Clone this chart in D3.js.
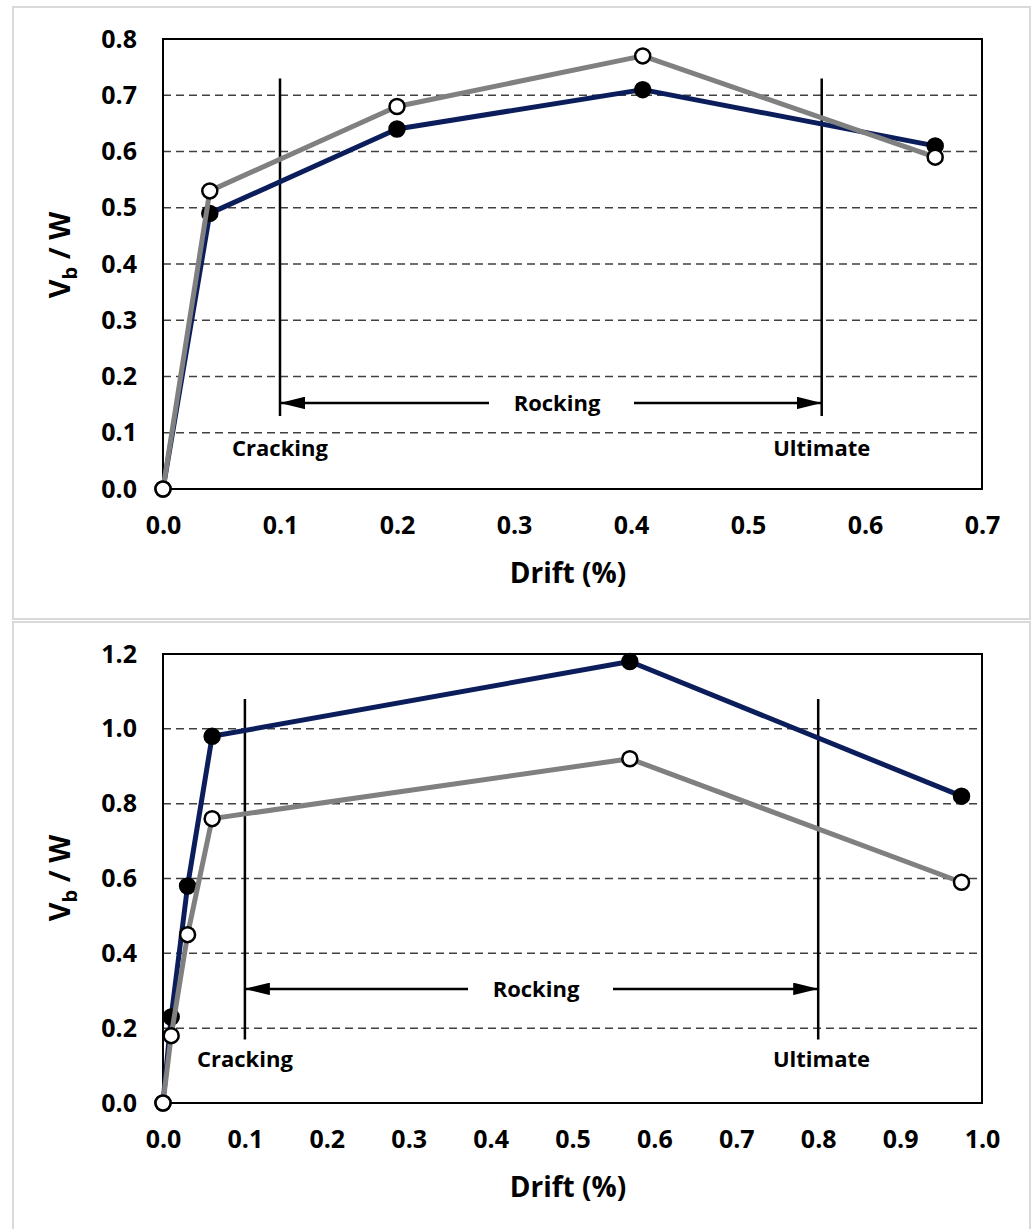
<!DOCTYPE html>
<html>
<head>
<meta charset="utf-8">
<script src="https://cdn.jsdelivr.net/npm/d3@7"></script>
<style>
  body { margin: 0; background: #fff; }
  text { font-family: "Open Sans", sans-serif; font-weight: bold; fill: #000; }
</style>
</head>
<body>
<div id="chart"></div>
<script>
// top panel
const topDrift = [0, 0.04, 0.2, 0.41, 0.66];
const topSolid = [0, 0.49, 0.64, 0.71, 0.61];
const topHollow = [0, 0.53, 0.68, 0.77, 0.59];
const topXTicks = [0, 0.1, 0.2, 0.3, 0.4, 0.5, 0.6, 0.7];
const topYTicks = [0, 0.1, 0.2, 0.3, 0.4, 0.5, 0.6, 0.7, 0.8];
// limits: [cracking drift, ultimate drift], marker line span, arrow level, label level
const topLimits = [0.1, 0.563];
const topLimitSpan = [0.13, 0.73];
const topArrowY = 0.153;
const topLabelY = 0.058;

// bottom panel
const botDrift = [0, 0.01, 0.03, 0.06, 0.57, 0.975];
const botSolid = [0, 0.23, 0.58, 0.98, 1.18, 0.82];
const botHollow = [0, 0.18, 0.45, 0.76, 0.92, 0.59];
const botXTicks = [0, 0.1, 0.2, 0.3, 0.4, 0.5, 0.6, 0.7, 0.8, 0.9, 1.0];
const botYTicks = [0, 0.2, 0.4, 0.6, 0.8, 1.0, 1.2];
const botLimits = [0.1, 0.8];
const botLimitSpan = [0.17, 1.08];
const botArrowY = 0.305;
const botLabelY = 0.095;

const svg = d3.select("#chart").append("svg")
  .attr("width", 1035)
  .attr("height", 1229);

const defs = svg.append("defs");
defs.append("marker")
  .attr("id", "head")
  .attr("viewBox", "0 0 10 5")
  .attr("refX", 10).attr("refY", 2.5)
  .attr("markerWidth", 10).attr("markerHeight", 5)
  .attr("markerUnits", "strokeWidth")
  .attr("orient", "auto")
  .append("path")
  .attr("d", "M0,0 L10,2.5 L0,5 z")
  .attr("fill", "#000");

function drawPanel(p) {
  // outer frame
  svg.append("rect")
    .attr("x", 13).attr("y", p.frameY)
    .attr("width", 1017).attr("height", p.frameH)
    .attr("fill", "#fff")
    .attr("stroke", "#d9d9d9")
    .attr("stroke-width", 2);

  const x = d3.scaleLinear().domain(p.xDomain).range([163, 982]);
  const y = d3.scaleLinear().domain(p.yDomain).range([p.bottom, p.top]);

  const g = svg.append("g");

  // gridlines
  g.selectAll(".grid")
    .data(p.yTicks.filter((d, i) => i > 0))
    .join("line")
    .attr("x1", x(p.xDomain[0])).attr("x2", x(p.xDomain[1]))
    .attr("y1", (d) => y(d)).attr("y2", (d) => y(d))
    .attr("stroke", "#404040")
    .attr("stroke-width", 1.5)
    .attr("stroke-dasharray", "8,5");

  // plot border
  g.append("rect")
    .attr("x", x(p.xDomain[0])).attr("y", y(p.yDomain[1]))
    .attr("width", x(p.xDomain[1]) - x(p.xDomain[0]))
    .attr("height", y(p.yDomain[0]) - y(p.yDomain[1]))
    .attr("fill", "none")
    .attr("stroke", "#000")
    .attr("stroke-width", 2);

  // axes tick labels
  const xAxis = g.append("g")
    .attr("transform", `translate(0,${p.bottom})`)
    .call(d3.axisBottom(x).tickValues(p.xTicks).tickFormat(d3.format(".1f")).tickSize(0).tickPadding(27));
  xAxis.select(".domain").remove();
  xAxis.selectAll("text").style("font-size", "25px");

  const yAxis = g.append("g")
    .attr("transform", `translate(163,0)`)
    .call(d3.axisLeft(y).tickValues(p.yTicks).tickFormat(d3.format(".1f")).tickSize(0).tickPadding(26));
  yAxis.select(".domain").remove();
  yAxis.selectAll("text").style("font-size", "25px");

  // limit lines
  g.selectAll(".limit")
    .data(p.limits)
    .join("line")
    .attr("x1", (d) => x(d)).attr("x2", (d) => x(d))
    .attr("y1", y(p.limitSpan[0])).attr("y2", y(p.limitSpan[1]))
    .attr("stroke", "#000")
    .attr("stroke-width", 2.5);

  // rocking arrows, with a gap for the label
  const ay = y(p.arrowY);
  g.append("line")
    .attr("x1", p.gap[0]).attr("x2", x(p.limits[0]))
    .attr("y1", ay).attr("y2", ay)
    .attr("stroke", "#000").attr("stroke-width", 2.5)
    .attr("marker-end", "url(#head)");
  g.append("line")
    .attr("x1", p.gap[1]).attr("x2", x(p.limits[1]))
    .attr("y1", ay).attr("y2", ay)
    .attr("stroke", "#000").attr("stroke-width", 2.5)
    .attr("marker-end", "url(#head)");
  g.append("text")
    .attr("x", p.rockX).attr("y", ay)
    .attr("dy", "0.35em")
    .attr("text-anchor", "middle")
    .style("font-size", "22px")
    .text("Rocking");

  g.selectAll(".limitLabel")
    .data([["Cracking", p.limits[0]], ["Ultimate", p.ultLabelX]])
    .join("text")
    .attr("x", (d) => x(d[1]))
    .attr("y", y(p.labelY))
    .attr("text-anchor", "middle")
    .style("font-size", "22px")
    .text((d) => d[0]);

  // series
  const series = [
    { vals: p.solid, color: "#0b1e5b", fill: "#000" },
    { vals: p.hollow, color: "#808080", fill: "#fff" }
  ];
  series.forEach((s) => {
    const pts = p.drift.map((d, i) => [d, s.vals[i]]);
    g.append("path")
      .datum(pts)
      .attr("fill", "none")
      .attr("stroke", s.color)
      .attr("stroke-width", 5)
      .attr("stroke-linejoin", "round")
      .attr("d", d3.line().x((d) => x(d[0])).y((d) => y(d[1])));
    g.selectAll(null)
      .data(pts)
      .join("circle")
      .attr("cx", (d) => x(d[0]))
      .attr("cy", (d) => y(d[1]))
      .attr("r", 7.5)
      .attr("fill", s.fill)
      .attr("stroke", "#000")
      .attr("stroke-width", 2.5);
  });

  // axis titles
  g.append("text")
    .attr("x", 568).attr("y", p.bottom + 94)
    .attr("text-anchor", "middle")
    .style("font-size", "28px")
    .text("Drift (%)");

  const yt = g.append("text")
    .attr("transform", `translate(70,${p.yTitleY}) rotate(-90)`)
    .attr("text-anchor", "middle")
    .style("font-size", "29px");
  yt.append("tspan").text("V");
  yt.append("tspan").attr("dy", 7).style("font-size", "20px").text("b");
  yt.append("tspan").attr("dy", -7).text(" / W");
}

drawPanel({
  frameY: 7, frameH: 612,
  top: 39, bottom: 489,
  xDomain: [0, 0.7], yDomain: [0, 0.8],
  xTicks: topXTicks, yTicks: topYTicks,
  drift: topDrift, solid: topSolid, hollow: topHollow,
  limits: topLimits, limitSpan: topLimitSpan,
  arrowY: topArrowY, labelY: topLabelY,
  gap: [489, 634], rockX: 557, ultLabelX: 0.563,
  yTitleY: 255
});

drawPanel({
  frameY: 622, frameH: 612,
  top: 654, bottom: 1103,
  xDomain: [0, 1.0], yDomain: [0, 1.2],
  xTicks: botXTicks, yTicks: botYTicks,
  drift: botDrift, solid: botSolid, hollow: botHollow,
  limits: botLimits, limitSpan: botLimitSpan,
  arrowY: botArrowY, labelY: botLabelY,
  gap: [468, 613], rockX: 536, ultLabelX: 0.804,
  yTitleY: 878
});
</script>
</body>
</html>
